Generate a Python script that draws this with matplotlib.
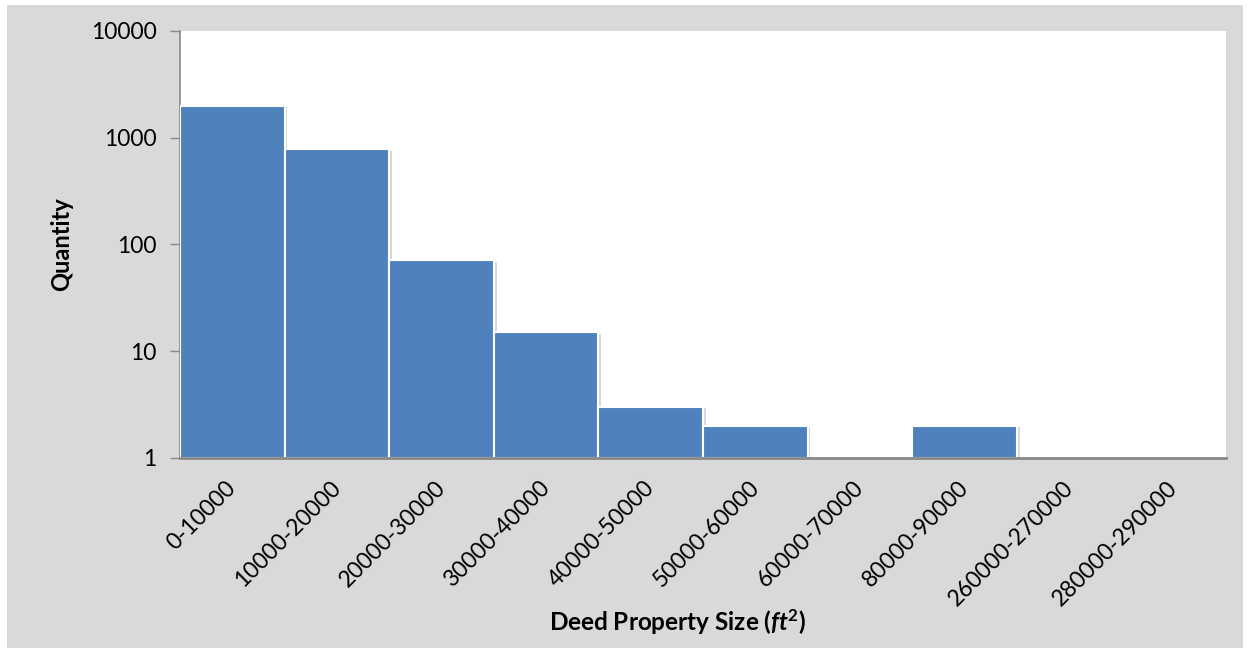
import matplotlib
matplotlib.use("Agg")
import matplotlib.pyplot as plt
import matplotlib.patheffects as pe
import matplotlib.transforms as mtransforms
from matplotlib.patches import Rectangle

categories = ['0-10000', '10000-20000', '20000-30000', '30000-40000', '40000-50000',
              '50000-60000', '60000-70000', '80000-90000', '260000-270000', '280000-290000']
quantities = [1980, 780, 71, 15, 3, 2, 1, 2, 1, 1]

bar_color = '#4f81bd'
bg_color = '#d9d9d9'

plt.rcParams['font.family'] = ['Lato', 'DejaVu Sans']
plt.rcParams['mathtext.fontset'] = 'custom'
plt.rcParams['mathtext.rm'] = 'Lato'
plt.rcParams['mathtext.it'] = 'Lato:italic'
plt.rcParams['mathtext.bf'] = 'Lato:bold'
plt.rcParams['mathtext.bfit'] = 'Lato:italic:bold'

fig = plt.figure(figsize=(12.5, 6.53), dpi=100)
fig.patch.set_facecolor('white')
fig.patches.append(Rectangle((7 / 1250, 5 / 653), 1236 / 1250, 643 / 653,
                             transform=fig.transFigure, facecolor=bg_color,
                             edgecolor='none', zorder=-10))

ax = fig.add_axes([180 / 1250, 1 - 458 / 653, 1046 / 1250, 427 / 653])
ax.set_facecolor('white')

x = range(len(categories))
heights = [q - 1 for q in quantities]
bars = ax.bar(x, heights, bottom=1, width=1.0, color=bar_color,
              edgecolor='white', linewidth=1.5, zorder=3)
for b in bars:
    b.set_path_effects([pe.SimplePatchShadow(offset=(2, -1), shadow_rgbFace='#b0b0b0', alpha=0.5),
                        pe.Normal()])

ax.set_yscale('log')
ax.set_ylim(1, 10000)
ax.set_xlim(-0.5, len(categories) - 0.5)
ax.set_yticks([1, 10, 100, 1000, 10000])
ax.set_yticklabels(['1', '10', '100', '1000', '10000'])
ax.minorticks_off()
ax.tick_params(axis='y', which='major', length=7, width=1, color='#888888',
               labelsize=16.5, pad=10)
ax.set_xticks(list(x))
ax.set_xticklabels(categories, rotation=45, ha='right', rotation_mode='anchor', fontsize=16.5)
ax.tick_params(axis='x', length=0, pad=14)
shift = mtransforms.ScaledTranslation(-7 / 100, 0, fig.dpi_scale_trans)
for lbl in ax.get_xticklabels():
    lbl.set_transform(lbl.get_transform() + shift)

for side in ['top', 'right']:
    ax.spines[side].set_visible(False)
ax.spines['left'].set_color('#888888')
ax.spines['left'].set_linewidth(1.2)
ax.spines['bottom'].set_color('#888888')
ax.spines['bottom'].set_linewidth(2)
ax.spines['bottom'].set_zorder(4)

ax.set_ylabel('Quantity', fontsize=17, fontweight='bold')
ax.set_xlabel(r'Deed Property Size ($\mathbfit{ft}^{\mathbf{2}}$)', fontsize=17.5,
              fontweight='bold')
ax.xaxis.set_label_coords(0.476, -0.35)
ax.yaxis.set_label_coords(-0.102, 0.5)

plt.savefig('out.png', dpi=100, facecolor=fig.get_facecolor())
